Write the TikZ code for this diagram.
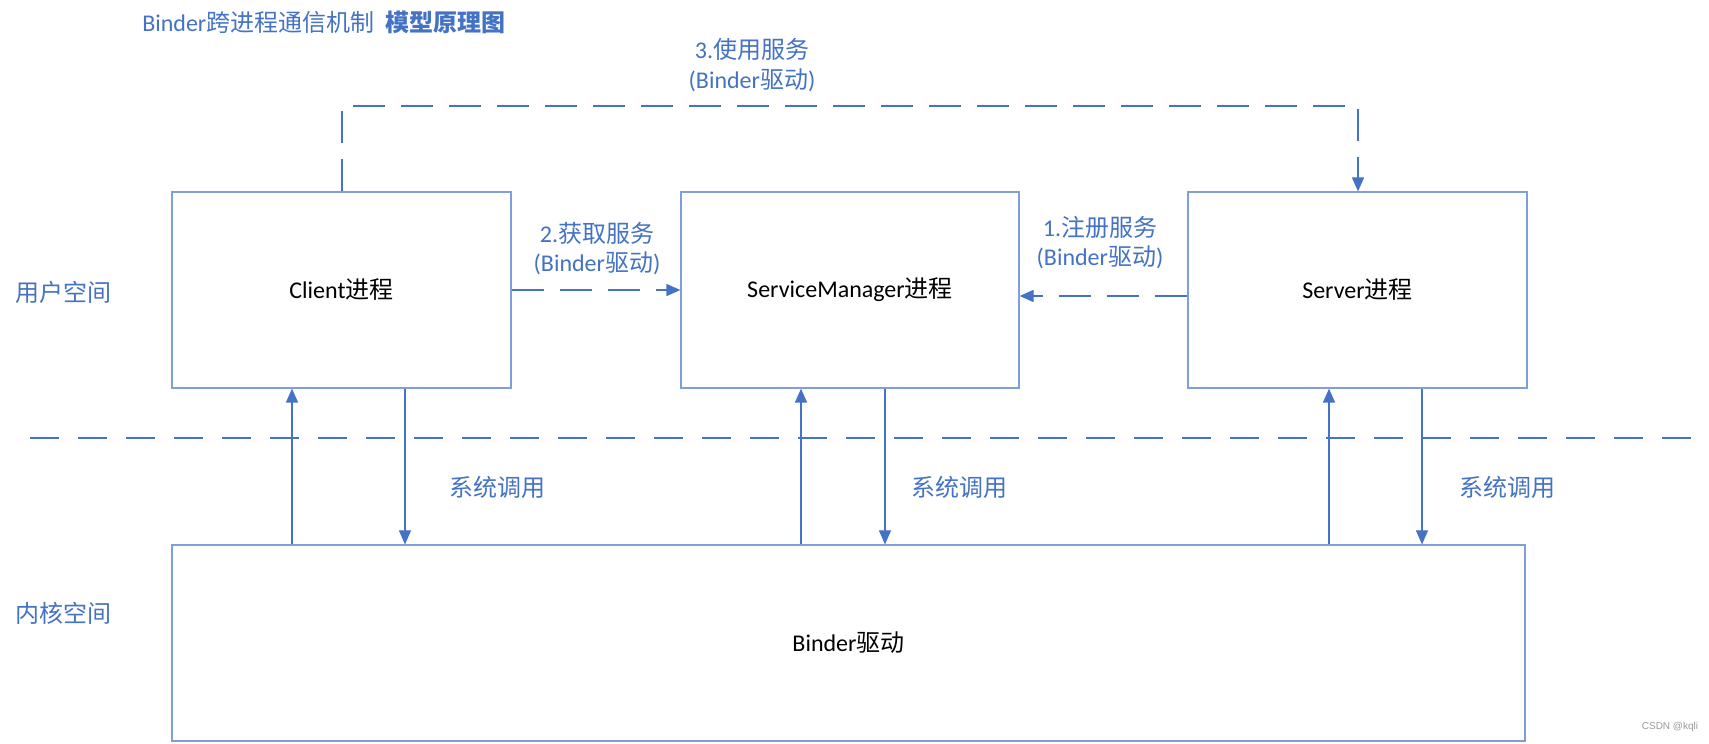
\documentclass[tikz,border=0pt]{standalone}
\usepackage{fontspec}
\setmainfont{Carlito}
\newfontfamily\cjk{Noto Sans CJK SC}
\newfontfamily\arialf{Liberation Sans}
\usetikzlibrary{arrows.meta}
\definecolor{obl}{HTML}{4472C4}
\definecolor{bbd}{HTML}{7F9FDB}
\newcommand\zh[1]{{\cjk #1}}
\begin{document}
\begin{tikzpicture}[x=0.75pt,y=-0.75pt,
  box/.style={draw=bbd,line width=0.9pt,minimum height=196*0.75pt,inner sep=0pt,font=\fontsize{18pt}{20pt}\selectfont},
  lbl/.style={text=obl,inner sep=0pt,font=\fontsize{18pt}{20pt}\selectfont},
  tip/.style={-{Triangle[length=10.5pt,width=9pt]}},
  uparr/.style={draw=obl,line width=1.2pt,tip},
  dnarr/.style={draw=obl,line width=0.8pt,tip},
  darr/.style={draw=obl,line width=1.2pt,dash pattern=on 24pt off 12pt,tip},
  sep/.style={draw=obl,line width=1.5pt,dash pattern=on 21.75pt off 14.25pt}]
\useasboundingbox (0,0) rectangle (1709,743);
\fill[white] (0,0) rectangle (1709,743);

% boxes
\node[box,minimum width=339*0.75pt] (client) at (341.5,290) {Client\zh{进程}};
\node[box,minimum width=338*0.75pt] (sm) at (850,290) {ServiceManager\zh{进程}};
\node[box,minimum width=339*0.75pt] (server) at (1357.5,290) {Server\zh{进程}};
\node[box,minimum width=1353*0.75pt] (binder) at (848.5,643) {Binder\zh{驱动}};

% title and side labels
\node[lbl,anchor=west] (title) at (142,22) {Binder\zh{跨进程通信机制}\hspace{8pt}{\cjk\bfseries 模型原理图}};
\node[lbl] (user) at (63,292) {\zh{用户空间}};
\node[lbl] (kernel) at (63,613) {\zh{内核空间}};

% separator
\coordinate (sepL) at (30,438);
\coordinate (sepR) at (1706,438);
\draw[sep] (sepL) -- (sepR);

% system call arrows
\coordinate (u1) at (292,0);
\coordinate (d1) at (405,0);
\coordinate (u2) at (801,0);
\coordinate (d2) at (885,0);
\coordinate (u3) at (1329,0);
\coordinate (d3) at (1422,0);
\draw[uparr] (u1 |- binder.north) -- (u1 |- client.south);
\draw[dnarr] (d1 |- client.south) -- (d1 |- binder.north);
\draw[uparr] (u2 |- binder.north) -- (u2 |- sm.south);
\draw[dnarr] (d2 |- sm.south) -- (d2 |- binder.north);
\draw[uparr] (u3 |- binder.north) -- (u3 |- server.south);
\draw[dnarr] (d3 |- server.south) -- (d3 |- binder.north);
\node[lbl] (sc1) at (497,487) {\zh{系统调用}};
\node[lbl] (sc2) at (959,487) {\zh{系统调用}};
\node[lbl] (sc3) at (1507,487) {\zh{系统调用}};

% 2. get service
\coordinate (a2) at (0,290);
\draw[darr] (client.east |- a2) -- (sm.west |- a2);
\node[lbl] (l2a) at (597,233) {2.\zh{获取服务}};
\node[lbl] (l2b) at (597,263) {(Binder\zh{驱动})};

% 1. register service
\coordinate (a1) at (0,296);
\draw[darr] (server.west |- a1) -- (sm.east |- a1);
\node[lbl] (l1a) at (1100,227) {1.\zh{注册服务}};
\node[lbl] (l1b) at (1100,257) {(Binder\zh{驱动})};

% 3. use service
\coordinate (t1) at (342,106);
\coordinate (t2) at (1358,106);
\draw[darr] (t1 |- client.north) -- (t1) -- (t2) -- (t2 |- server.north);
\node[lbl] (l3a) at (752,49) {3.\zh{使用服务}};
\node[lbl] (l3b) at (752,80) {(Binder\zh{驱动})};

% watermark
\node[text=gray!80,inner sep=0pt,font=\arialf\fontsize{7.5pt}{9pt}\selectfont] (wm) at (1670,727) {CSDN @kqli};
\end{tikzpicture}
\end{document}
